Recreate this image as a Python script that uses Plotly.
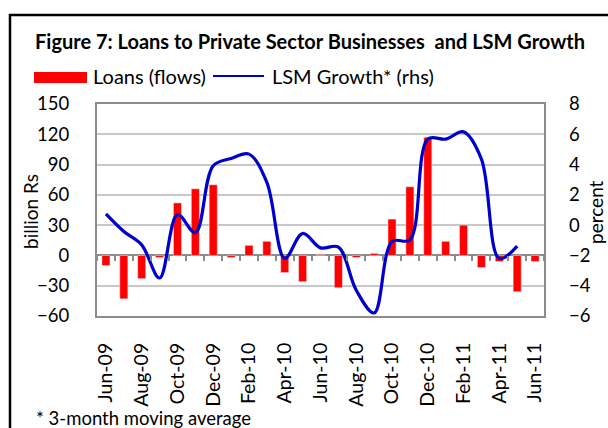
import plotly.graph_objects as go

months = ["Jun-09", "Jul-09", "Aug-09", "Sep-09", "Oct-09", "Nov-09", "Dec-09",
          "Jan-10", "Feb-10", "Mar-10", "Apr-10", "May-10", "Jun-10", "Jul-10",
          "Aug-10", "Sep-10", "Oct-10", "Nov-10", "Dec-10",
          "Jan-11", "Feb-11", "Mar-11", "Apr-11", "May-11", "Jun-11"]
loans = [-10, -43, -23, -2, 52, 66, 70, -2, 10, 14, -17, -26, 1, -32, -2, 2,
         36, 68, 117, 14, 30, -12, -6, -36, -6]
lsm_growth = [0.74, -0.42, -1.3, -3.49, 0.7, -0.5, 3.92, 4.4, 4.69, 2.82, -2.2,
              -0.55, -1.5, -1.45, -4.3, -5.8, -1.08, -0.97, 5.68, 5.68, 6.16,
              4.36, -2.2, -1.39, None]
tick_labels = months[::2]

W, H = 608, 428
L, R, T, B = 97, 64, 104, 112
PW, PH = W - L - R, H - T - B


def px(x):
    return (x - L) / PW


def py(y):
    return (H - B - y) / PH


FONT = "Lato"

fig = go.Figure()
fig.add_trace(go.Bar(x=months, y=loans, marker_color="#FF0000", name="Loans (flows)",
                     showlegend=False))
fig.add_trace(go.Scatter(x=months, y=lsm_growth, yaxis="y2", mode="lines",
                         line=dict(color="#0000CC", width=3.2, shape="spline", smoothing=1.0),
                         name="LSM Growth* (rhs)", showlegend=False, connectgaps=False))
# invisible trace for zero-line tick marks axis
fig.add_trace(go.Scatter(x=months, y=[0] * len(months), xaxis="x2", mode="markers",
                         marker=dict(opacity=0), hoverinfo="skip", showlegend=False))

fig.update_layout(
    width=W, height=H,
    margin=dict(l=L, r=R, t=T, b=B),
    paper_bgcolor="white", plot_bgcolor="white",
    font=dict(family=FONT, size=18, color="black"),
    bargap=0.55,
    xaxis=dict(type="category", categoryorder="array", categoryarray=months,
               range=[-0.5, len(months) - 0.5],
               tickmode="array", tickvals=tick_labels, ticktext=tick_labels,
               tickangle=-90, ticks="", ticklabelstandoff=17,
               showline=True, linecolor="#8c8c8c", linewidth=2, mirror=True,
               showgrid=False, tickfont=dict(size=19.5)),
    xaxis2=dict(type="category", categoryorder="array", categoryarray=months,
                overlaying="x", anchor="free", position=60 / 210,
                range=[-0.5, len(months) - 0.5],
                tickson="boundaries", ticks="outside", ticklen=5, tickwidth=1.5,
                tickcolor="#8c8c8c", showticklabels=False, showline=False,
                showgrid=False),
    yaxis=dict(range=[-60, 150], dtick=30, tick0=0, showgrid=True,
               gridcolor="#c8c8c8", gridwidth=1.5,
               zeroline=True, zerolinecolor="#8c8c8c", zerolinewidth=2,
               showline=True, linecolor="#8c8c8c", linewidth=2, mirror=True,
               ticks="", ticklabelstandoff=22, tickfont=dict(size=18.5)),
    yaxis2=dict(range=[-6, 8], dtick=2, tick0=0, overlaying="y", side="right",
                showgrid=False, zeroline=False, showline=False,
                ticks="", ticklabelstandoff=24, tickfont=dict(size=18.5)),
)

# outer border
fig.add_shape(type="rect", xref="paper", yref="paper",
              x0=px(10), x1=px(640), y0=py(470), y1=py(15),
              line=dict(color="black", width=2.5), fillcolor="rgba(0,0,0,0)", layer="above")

# title
fig.add_annotation(text="<b>Figure 7: Loans to Private Sector Businesses  and LSM Growth</b>",
                   xref="paper", yref="paper", x=px(33), y=py(41),
                   xanchor="left", yanchor="middle", showarrow=False,
                   font=dict(family=FONT, size=20, color="black"))

# legend (manual)
fig.add_shape(type="rect", xref="paper", yref="paper",
              x0=px(34), x1=px(87), y0=py(83), y1=py(72),
              line=dict(width=0), fillcolor="#FF0000")
fig.add_annotation(text="Loans (flows)", xref="paper", yref="paper",
                   x=px(91), y=py(76), xanchor="left", yanchor="middle",
                   showarrow=False, font=dict(family=FONT, size=20))
fig.add_shape(type="line", xref="paper", yref="paper",
              x0=px(213), x1=px(264), y0=py(76), y1=py(76),
              line=dict(color="#0000CC", width=2))
fig.add_annotation(text="LSM Growth* (rhs)", xref="paper", yref="paper",
                   x=px(270), y=py(76), xanchor="left", yanchor="middle",
                   showarrow=False, font=dict(family=FONT, size=20))

# axis titles
fig.add_annotation(text="billion Rs", xref="paper", yref="paper",
                   x=px(30), y=py(212), textangle=-90, xanchor="center", yanchor="middle",
                   showarrow=False, font=dict(family=FONT, size=19))
fig.add_annotation(text="percent", xref="paper", yref="paper",
                   x=px(595), y=py(212), textangle=-90, xanchor="center", yanchor="middle",
                   showarrow=False, font=dict(family=FONT, size=19))

# footnote
fig.add_annotation(text="* 3-month moving average", xref="paper", yref="paper",
                   x=px(34), y=py(418), xanchor="left", yanchor="middle",
                   showarrow=False, font=dict(family=FONT, size=18.5))

fig.write_html("out.html")
